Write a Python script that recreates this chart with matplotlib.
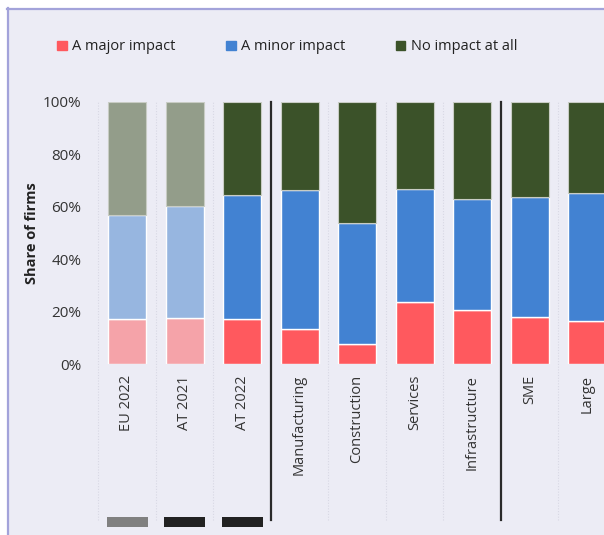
import matplotlib.pyplot as plt
from matplotlib.patches import Patch, Rectangle

plt.rcParams['font.family'] = ['Open Sans', 'DejaVu Sans']

categories = ["EU 2022", "AT 2021", "AT 2022", "Manufacturing", "Construction",
              "Services", "Infrastructure", "SME", "Large"]
major = [17.0, 17.4, 17.0, 13.3, 7.6, 23.5, 20.6, 17.8, 16.5]
minor_top = [56.7, 60.1, 64.3, 66.3, 53.9, 66.8, 62.9, 63.8, 65.2]
minor = [t - m for t, m in zip(minor_top, major)]
none_ = [100 - t for t in minor_top]
dividers = [2.5, 6.5]
marker_cats = [0, 1, 2]
marker_cols = ["#808080", "#222222", "#222222"]

bg = "#ECECF5"
red, blue, green = "#FF595E", "#4282D2", "#3B5229"
red_l, blue_l, green_l = "#F5A3A9", "#97B6E0", "#939D8A"

W, H = 604, 535
fig = plt.figure(figsize=(W / 100, H / 100), dpi=100)
fig.patch.set_facecolor("white")
# framed panel
fig.add_artist(Rectangle((8 / W, 0), 1, 1 - 9 / H, transform=fig.transFigure,
                         facecolor=bg, edgecolor="none", zorder=0))
fig.add_artist(plt.Line2D([8 / W, 8 / W], [0, 1 - 8 / H], transform=fig.transFigure,
                          color="#A3A3DA", lw=1.6))
fig.add_artist(plt.Line2D([7.3 / W, 1], [1 - 9 / H, 1 - 9 / H], transform=fig.transFigure,
                          color="#A3A3DA", lw=1.6))

x0, y_top, y_bot = 98.25, 101.7, 364.0
step = 57.5
xmax = (W - 127) / step
ax = fig.add_axes([x0 / W, 1 - y_bot / H, (W - x0) / W, (y_bot - y_top) / H])
ax.set_facecolor("none")
ax.set_xlim(-0.5, xmax)
ax.set_ylim(0, 100)

xs = list(range(len(categories)))
w = 38 / step
for i in xs:
    light = i < 2
    cols = (red_l, blue_l, green_l) if light else (red, blue, green)
    ax.bar(i, major[i], w, color=cols[0], edgecolor="white", lw=1, zorder=3)
    ax.bar(i, minor[i], w, bottom=major[i], color=cols[1], edgecolor="white", lw=1, zorder=3)
    ax.bar(i, none_[i], w, bottom=minor_top[i], color=cols[2], edgecolor="#C8CCC4", lw=0.8, zorder=3)

ext = -(520 - y_bot) / (y_bot - y_top)
for g in [-0.5] + [i + 0.5 for i in xs]:
    if g in dividers:
        continue
    ax.axvline(g, ymin=ext, ymax=1, color="#D8D8E4", lw=0.8, ls=(0, (1, 1.5)),
               clip_on=False, zorder=1)
for d in dividers:
    ax.axvline(d, ymin=ext, ymax=1, color="#2A2A2A", lw=1.6, clip_on=False, zorder=4)

mb = -(517 - y_bot) / (y_bot - y_top) * 100
mh = -(10 / (y_bot - y_top)) * 100
for i, c in zip(marker_cats, marker_cols):
    ax.bar(i, mh, 41 / step, bottom=mb, color=c, clip_on=False, zorder=3)

for s in ax.spines.values():
    s.set_visible(False)
ax.set_yticks([0, 20, 40, 60, 80, 100])
ax.set_yticklabels(["0%", "20%", "40%", "60%", "80%", "100%"], fontsize=11, color="#333333")
ax.tick_params(axis="y", length=0, pad=12)
ax.set_xticks(xs)
ax.set_xticklabels(categories, rotation=90, fontsize=10.5, color="#333333", va="top")
ax.tick_params(axis="x", length=0, pad=8)
ax.set_ylabel("Share of firms", fontsize=10.5, fontweight="bold", color="#222222")
ax.yaxis.set_label_coords(-(x0 - 39) / (W - x0), 0.5)

handles = [Patch(color=red), Patch(color=blue), Patch(color=green)]
fig.legend(handles, ["A major impact", "A minor impact", "No impact at all"],
           ncol=3, loc="center left", bbox_to_anchor=(44 / W, 1 - 47 / H),
           frameon=False, fontsize=10.5, handlelength=0.65, handleheight=0.65,
           handletextpad=0.4, columnspacing=3.45, labelcolor="#222222")

fig.savefig("out.png", dpi=100, facecolor="white")
